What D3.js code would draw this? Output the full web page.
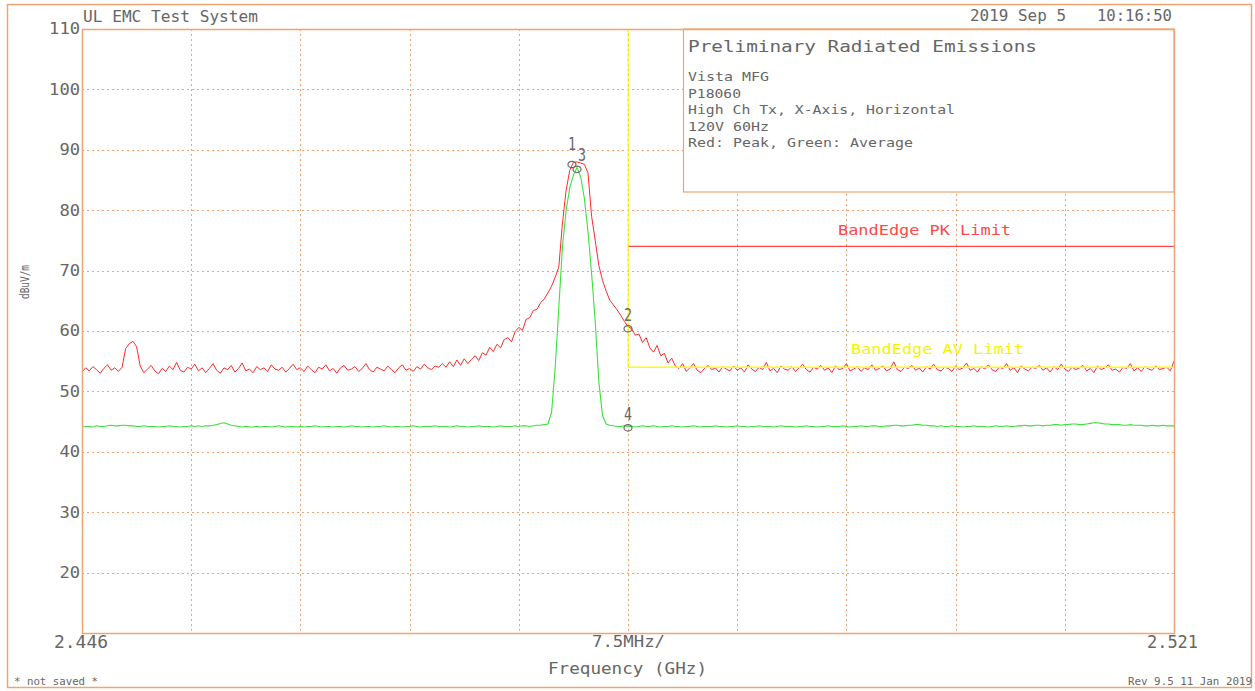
<!DOCTYPE html>
<html>
<head>
<meta charset="utf-8">
<script src="https://cdn.jsdelivr.net/npm/d3@7"></script>
<style>
    html, body { margin: 0; padding: 0; background: #fff; }
    svg { display: block; }
    text { font-family: 'DejaVu Sans Mono', monospace; fill: #666; }
</style>
</head>
<body>
<svg id="chart" width="1255" height="691"></svg>
<script>

    // Sweep settings
    const sweepStart = 2.446;   // GHz
    const sweepStop = 2.521;    // GHz
    const yTicks = [20, 30, 40, 50, 60, 70, 80, 90, 100, 110];
    const gridLevels = [20, 30, 40, 50, 60, 70, 80, 90, 100];
    const gridFreqs = [2.4535, 2.461, 2.4685, 2.476, 2.4835, 2.491, 2.4985, 2.506, 2.5135];

    // Peak trace (red), 301 sweep points, dBuV/m
    const peakTrace = [
        53.2, 53.9, 53.4, 54.1, 53.6, 53.0, 53.8, 54.4, 53.5, 53.9, 53.3, 54.0, 57.1, 57.9, 58.3, 57.4, 54.2, 53.1, 53.7, 54.3,
        53.4, 52.9, 53.8, 53.3, 54.2, 53.6, 54.8, 53.5, 53.2, 54.0, 53.7, 54.5, 53.4, 53.9, 53.1, 53.8, 54.6, 53.5, 53.0, 53.9,
        53.6, 54.3, 53.2, 53.8, 54.7, 53.4, 53.7, 53.1, 54.1, 53.6, 53.9, 53.3, 54.4, 53.7, 53.5, 54.0, 53.2, 53.8, 54.5, 53.6,
        53.9, 53.3, 54.2, 53.6, 53.1, 54.0, 53.7, 54.4, 53.4, 53.8, 53.0, 53.9, 54.3, 53.5, 53.7, 54.1, 53.3, 53.8, 54.6, 53.6,
        53.2, 54.0, 53.7, 53.4, 54.2, 53.6, 53.1, 53.9, 54.4, 53.5, 53.8, 53.3, 54.1, 53.7, 54.5, 53.9, 53.6, 54.2, 54.0, 54.6,
        54.0, 54.9, 54.1, 55.2, 54.3, 55.4, 54.6, 55.3, 55.9, 55.1, 56.4, 56.0, 57.3, 56.6, 57.8, 57.2, 58.6, 58.9, 58.2, 59.9,
        60.6, 60.1, 61.9, 62.2, 63.4, 63.6, 64.7, 65.3, 66.3, 67.4, 68.9, 70.6, 77.9, 83.3, 86.6, 87.9, 88.0, 87.8, 87.6, 86.2,
        79.0, 75.0, 70.8, 68.4, 66.6, 65.1, 64.3, 63.5, 62.6, 61.6, 60.7, 60.4, 59.3, 59.5, 58.1, 58.9, 57.2, 56.5, 57.6, 55.9,
        56.3, 54.7, 55.5, 54.2, 53.8, 54.6, 53.3, 53.9, 54.6, 53.5, 53.1, 53.8, 54.3, 53.6, 53.9, 53.2, 54.1, 53.7, 53.4, 54.2,
        53.5, 53.9, 53.2, 54.4, 53.7, 53.3, 54.0, 53.6, 54.8, 53.4, 53.8, 53.1, 54.2, 53.7, 53.5, 54.1, 53.3, 53.9, 54.5, 53.6,
        53.2, 54.0, 53.7, 54.3, 53.5, 53.9, 53.1, 54.2, 53.6, 53.8, 54.6, 53.4, 53.7, 54.1, 53.3, 53.9, 53.6, 54.4, 53.5, 53.8,
        54.2, 53.4, 53.7, 54.9, 53.6, 53.3, 54.0, 53.8, 54.3, 53.5, 53.9, 53.2, 54.1, 53.7, 54.5, 53.6, 53.4, 54.0, 53.8, 53.3,
        54.2, 53.6, 53.9, 54.7, 53.5, 53.8, 53.2, 54.1, 53.7, 54.4, 53.6, 53.3, 54.0, 53.8, 54.6, 53.5, 53.9, 53.1, 54.2, 53.7,
        53.4, 54.0, 53.8, 54.3, 53.5, 53.9, 53.2, 54.1, 53.6, 54.5, 53.7, 53.3, 54.0, 53.6, 53.9, 54.3, 53.4, 53.8, 53.1, 54.2,
        53.6, 53.9, 54.4, 53.5, 53.7, 53.2, 54.0, 53.8, 54.6, 53.4, 53.9, 53.3, 54.1, 53.7, 53.5, 54.2, 53.6, 53.8, 54.0, 53.4,
        55.0
    ];

    // Average trace (green), 301 sweep points, dBuV/m
    const avgTrace = [
        44.1, 44.2, 44.2, 44.1, 44.3, 44.2, 44.2, 44.3, 44.4, 44.3, 44.3, 44.4, 44.4, 44.3, 44.3, 44.2, 44.2, 44.3, 44.2, 44.2,
        44.2, 44.1, 44.2, 44.2, 44.3, 44.2, 44.2, 44.1, 44.2, 44.2, 44.3, 44.2, 44.3, 44.2, 44.3, 44.3, 44.4, 44.5, 44.7, 44.8,
        44.6, 44.4, 44.3, 44.2, 44.1, 44.2, 44.1, 44.1, 44.2, 44.1, 44.2, 44.2, 44.1, 44.2, 44.3, 44.2, 44.1, 44.2, 44.2, 44.1,
        44.2, 44.1, 44.2, 44.2, 44.3, 44.2, 44.1, 44.2, 44.2, 44.1, 44.2, 44.2, 44.1, 44.2, 44.3, 44.2, 44.2, 44.1, 44.2, 44.2,
        44.1, 44.2, 44.2, 44.3, 44.2, 44.1, 44.2, 44.2, 44.1, 44.2, 44.2, 44.3, 44.2, 44.1, 44.2, 44.2, 44.2, 44.3, 44.2, 44.2,
        44.2, 44.1, 44.2, 44.3, 44.2, 44.2, 44.1, 44.2, 44.2, 44.3, 44.2, 44.2, 44.2, 44.1, 44.2, 44.3, 44.2, 44.2, 44.2, 44.3,
        44.2, 44.3, 44.3, 44.2, 44.3, 44.4, 44.4, 44.5, 44.6, 46.5, 54.0, 64.0, 74.0, 80.0, 83.7, 85.8, 87.1, 85.5, 82.0, 76.5,
        69.5, 61.5, 51.5, 46.0, 44.6, 44.4, 44.3, 44.2, 44.2, 44.3, 44.2, 44.2, 44.1, 44.2, 44.3, 44.2, 44.2, 44.3, 44.2, 44.1,
        44.2, 44.2, 44.3, 44.2, 44.2, 44.1, 44.2, 44.2, 44.3, 44.2, 44.1, 44.2, 44.2, 44.2, 44.3, 44.2, 44.2, 44.1, 44.2, 44.2,
        44.3, 44.2, 44.2, 44.1, 44.2, 44.2, 44.3, 44.2, 44.2, 44.2, 44.1, 44.2, 44.3, 44.2, 44.2, 44.2, 44.1, 44.2, 44.2, 44.3,
        44.2, 44.2, 44.1, 44.2, 44.2, 44.3, 44.2, 44.2, 44.2, 44.3, 44.2, 44.1, 44.2, 44.2, 44.3, 44.2, 44.2, 44.3, 44.3, 44.2,
        44.2, 44.3, 44.3, 44.4, 44.4, 44.3, 44.3, 44.4, 44.4, 44.5, 44.5, 44.4, 44.4, 44.3, 44.3, 44.2, 44.3, 44.2, 44.2, 44.3,
        44.2, 44.2, 44.1, 44.2, 44.2, 44.3, 44.2, 44.2, 44.2, 44.1, 44.2, 44.3, 44.2, 44.2, 44.3, 44.2, 44.2, 44.3, 44.3, 44.4,
        44.3, 44.3, 44.4, 44.4, 44.3, 44.4, 44.4, 44.5, 44.5, 44.4, 44.5, 44.5, 44.6, 44.6, 44.5, 44.5, 44.6, 44.7, 44.8, 44.8,
        44.7, 44.6, 44.6, 44.5, 44.5, 44.5, 44.4, 44.4, 44.5, 44.4, 44.4, 44.4, 44.3, 44.3, 44.4, 44.3, 44.3, 44.4, 44.3, 44.3,
        44.3
    ];

    // Limits
    const bandEdge = 2.4835;
    const pkLimit = 74;
    const avLimit = 54;

    // Markers: number, frequency (GHz), level (dBuV/m)
    const markers = [
        { id: '1', f: 2.47965, level: 87.9 },
        { id: '3', f: 2.4800, level: 87.1 },
        { id: '2', f: 2.4835, level: 60.7 },
        { id: '4', f: 2.4835, level: 44.3 }
    ];

    const infoLines = ['Vista MFG', 'P18060', 'High Ch Tx, X-Axis, Horizontal', '120V 60Hz', 'Red: Peak, Green: Average'];
    const infoLengths = [81, 53, 267, 81, 225];

    // Layout
    const FRAME = '#f0a472';
    const TEXT = '#666';
    const PLOT = { left: 82, top: 29, width: 1092, height: 604 };

    const svg = d3.select('#chart');

    const x = d3.scaleLinear().domain([sweepStart, sweepStop]).range([PLOT.left, PLOT.left + PLOT.width]);
    const y = d3.scaleLinear().domain([10, 110]).range([PLOT.top + PLOT.height, PLOT.top]);
    const freqAt = (n) => d3.scaleLinear().domain([0, n - 1]).range([sweepStart, sweepStop]);

    function label(str, px, py, size, len, color) {
        return svg.append('text')
            .attr('x', px).attr('y', py)
            .attr('font-size', size)
            .attr('textLength', len)
            .attr('lengthAdjust', 'spacingAndGlyphs')
            .style('fill', color || TEXT)
            .text(str);
    }

    // Outer frame
    svg.append('rect')
        .attr('x', 7.5).attr('y', 4.5).attr('width', 1244).attr('height', 683)
        .attr('fill', 'none').attr('stroke', FRAME).attr('stroke-width', 1.5);

    // Grid
    const grid = svg.append('g').attr('class', 'grid')
        .attr('stroke', FRAME).attr('stroke-width', 1).attr('stroke-dasharray', '2,3');
    grid.selectAll('line.h').data(gridLevels).enter().append('line')
        .attr('class', 'h')
        .attr('x1', PLOT.left).attr('x2', PLOT.left + PLOT.width)
        .attr('y1', (d) => Math.round(y(d)) + 0.5).attr('y2', (d) => Math.round(y(d)) + 0.5);
    grid.selectAll('line.v').data(gridFreqs).enter().append('line')
        .attr('class', 'v')
        .attr('y1', PLOT.top).attr('y2', PLOT.top + PLOT.height)
        .attr('x1', (d) => Math.round(x(d)) + 0.5).attr('x2', (d) => Math.round(x(d)) + 0.5);

    // Y axis labels
    const yAxis = svg.append('g')
        .attr('transform', `translate(${PLOT.left},0)`)
        .call(d3.axisLeft(y).tickValues(yTicks).tickSize(0).tickFormat(d3.format('d')));
    yAxis.select('.domain').remove();
    yAxis.selectAll('text')
        .attr('font-family', null)
        .attr('font-size', 15)
        .attr('text-anchor', 'start')
        .attr('x', (d) => -2 - String(d).length * 10.3)
        .attr('textLength', (d) => String(d).length * 10.3)
        .attr('lengthAdjust', 'spacingAndGlyphs')
        .style('fill', TEXT);

    // Legend / info box
    svg.append('rect')
        .attr('x', 683.5).attr('y', PLOT.top).attr('width', 1174 - 683.5).attr('height', 163)
        .attr('fill', '#fff').attr('stroke', FRAME).attr('stroke-width', 1.2);
    label('Preliminary Radiated Emissions', 688, 52, 16, 349);
    infoLines.forEach((t, i) => label(t, 688, [81, 98, 114, 131, 147][i], 13, infoLengths[i]));

    // Traces
    const line = (data) => d3.line()
        .x((d, i) => x(freqAt(data.length)(i)))
        .y((d) => y(d))(data);

    svg.append('path')
        .attr('d', line(avgTrace))
        .attr('fill', 'none').attr('stroke', '#3ee03e').attr('stroke-width', 1.1);
    svg.append('path')
        .attr('d', line(peakTrace))
        .attr('fill', 'none').attr('stroke', '#ff2a2a').attr('stroke-width', 1)
        .attr('stroke-linejoin', 'round');

    // Limit lines
    svg.append('line')
        .attr('x1', x(bandEdge)).attr('x2', x(sweepStop))
        .attr('y1', y(pkLimit)).attr('y2', y(pkLimit))
        .attr('stroke', '#ff4848').attr('stroke-width', 1.3);
    svg.append('path')
        .attr('d', d3.line()([[x(bandEdge), y(110)], [x(bandEdge), y(avLimit)], [x(sweepStop), y(avLimit)]]))
        .attr('fill', 'none').attr('stroke', '#ffff00').attr('stroke-width', 1.3);

    label('BandEdge PK Limit', 838, 235, 14, 173, '#ff4848');
    label('BandEdge AV Limit', 851, 354, 14, 173, '#f5f500');

    // Markers: labels of coincident markers are nudged apart
    const nudge = (m, i) => (i === 1 ? 5 : 0);
    const mk = svg.append('g').attr('class', 'markers');
    mk.selectAll('ellipse').data(markers).enter().append('ellipse')
        .attr('cx', (m) => x(m.f)).attr('cy', (m) => y(m.level) + 2)
        .attr('rx', 4).attr('ry', 3.2)
        .attr('fill', 'none').attr('stroke', '#666').attr('stroke-width', 1.2);
    mk.selectAll('text').data(markers).enter().append('text')
        .attr('x', (m, i) => x(m.f) - 4 + nudge(m, i))
        .attr('y', (m, i) => y(m.level) - 6 - (i === 0 ? 6 : 0))
        .attr('font-size', 17)
        .attr('textLength', 8)
        .attr('lengthAdjust', 'spacingAndGlyphs')
        .style('fill', TEXT)
        .text((m) => m.id);

    // Header and footer texts
    label('UL EMC Test System', 83, 22, 15, 175);
    label('2019 Sep 5', 970, 21, 15, 96);
    label('10:16:50', 1097, 21, 15, 75);

    label('2.446', 54, 648, 18, 54);
    label('2.521', 1147, 648, 18, 51);
    label('7.5MHz/', 592, 647, 15, 73);
    label('Frequency (GHz)', 548, 674, 16, 159);
    label('* not saved *', 14, 685, 10, 84);
    label('Rev 9.5 11 Jan 2019', 1128, 685, 10, 124);

    svg.append('text')
        .attr('transform', 'translate(29,282) rotate(-90)')
        .attr('text-anchor', 'middle')
        .attr('font-size', 12)
        .attr('textLength', 34)
        .attr('lengthAdjust', 'spacingAndGlyphs')
        .style('fill', TEXT)
        .text('dBuV/m');

    // Plot border
    svg.append('rect')
        .attr('x', PLOT.left + 0.5).attr('y', PLOT.top + 0.5)
        .attr('width', PLOT.width).attr('height', PLOT.height)
        .attr('fill', 'none').attr('stroke', FRAME).attr('stroke-width', 1.5);

</script>
</body>
</html>
